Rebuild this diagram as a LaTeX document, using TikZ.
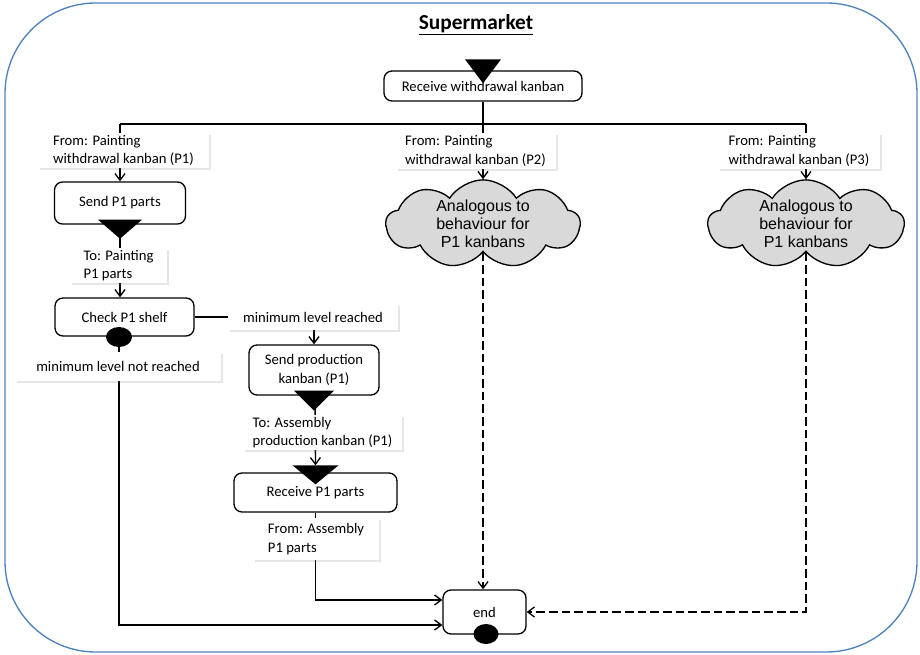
\documentclass[tikz,border=0pt]{standalone}
\usepackage{fontspec}
\setmainfont{Carlito}
\newfontfamily\cloudfont{Liberation Sans}
\usetikzlibrary{arrows.meta,shapes.geometric,shapes.symbols,shadows,calc}
\pgfdeclarelayer{bg}
\pgfsetlayers{bg,main}
\definecolor{frameblue}{RGB}{79,129,189}
\definecolor{cloudgrey}{RGB}{217,217,217}

\begin{document}
\begin{tikzpicture}[x=0.75pt,y=-0.75pt,
  sz/.style 2 args={minimum width=#1*0.75pt,minimum height=#2*0.75pt},
  txt/.style={font=\fontsize{11}{14}\selectfont},
  action/.style={txt,draw,line width=1pt,rounded corners=6pt,fill=white,inner sep=0pt,align=center},
  tag/.style={txt,fill=white,inner sep=0pt,align=left,
    drop shadow={shadow xshift=1.6pt,shadow yshift=-1.6pt,opacity=0.2}},
  cloudbox/.style={cloud,cloud puffs=9,cloud puff arc=115,cloud ignores aspect,
    draw,line width=1pt,fill=cloudgrey,align=center,inner sep=0pt,
    font=\cloudfont\fontsize{12}{13.5}\selectfont},
  dot/.style={ellipse,fill=black,inner sep=0pt},
  wire/.style={line width=1pt},
  arr/.style={wire,-{Straight Barb[length=5pt,width=7.5pt]}},
  dsh/.style={dash pattern=on 6.5pt off 3pt},
  frame/.style={draw=frameblue,line width=1pt,rounded corners=68pt}]

\useasboundingbox (0,0) rectangle (920,655);

% outer swimlane
\node[frame,sz={912}{649}] (market) at (461,327.5) {};
\node[font=\fontsize{16}{19}\selectfont\bfseries] (title) at (476,25) {\underline{Supermarket}};

% actions
\node[action,sz={198}{30}] (rwk) at (483,86) {Receive withdrawal kanban};
\node[action,sz={131}{42}] (send) at (120,203) {Send P1 parts};
\node[action,sz={139}{38}] (check) at (124.5,317) {Check P1 shelf};
\node[action,sz={130}{50}] (sendprod) at (314,370) {Send production\\kanban (P1)};
\node[action,sz={163}{39}] (recv) at (315.5,492.5) {Receive P1 parts};
\node[action,sz={83}{44}] (enda) at (484.5,612) {end};

% clouds for the other products
\node[cloudbox,sz={194}{76}] (cloud2) at (483,224) {Analogous to\\behaviour for\\P1 kanbans};
\node[cloudbox,sz={196}{76}] (cloud3) at (806,224) {Analogous to\\behaviour for\\P1 kanbans};

% object flow labels
\node[tag,sz={171}{35}] (lblP1) at (123.5,150.5) {From: Painting\\withdrawal kanban (P1)};
\node[tag,sz={160}{36}] (lblP2) at (475.5,151) {From: Painting\\withdrawal kanban (P2)};
\node[tag,sz={162}{36}] (lblP3) at (799,151) {From: Painting\\withdrawal kanban (P3)};
\node[tag,sz={97}{35}] (lblTo1) at (118.5,265.5) {To: Painting\\P1 parts};
\node[tag,sz={170}{26}] (mlr) at (313,317) {minimum level reached};
\node[tag,sz={206}{29}] (mlnr) at (118,366.5) {minimum level not reached};
\node[tag,sz={159}{35}] (lblTo2) at (322.5,432.5) {To: Assembly\\production kanban (P1)};
\node[tag,sz={126}{42}] (lblFrom2) at (316,539) {From: Assembly\\P1 parts};

% signal triangles (receive / send)
\fill ($(rwk.north)+(-18,-11)$) -- ++(36,0) -- ($(rwk.north)+(0,13)$) -- cycle;
\fill ($(send.south)+(-22,-5)$) -- ++(44,0) -- ($(send.south)+(0,14)$) -- cycle;
\fill ($(sendprod.south)+(-20,-5)$) -- ++(40,0) -- ($(sendprod.south)+(0,15)$) -- cycle;
\fill ($(recv.north)+(-23,-7)$) -- ++(46,0) -- ($(recv.north)+(0,12)$) -- cycle;
\coordinate (recvtop) at ($(recv.north)+(0,-7)$);

% decision / final dots
\node[dot,sz={26}{20}] (chkdot) at (119,337) {};
\node[dot,sz={25}{20}] (enddot) at (486,634) {};

% fork
\coordinate (fork) at (483,124);
\coordinate (f1) at (120,124);
\coordinate (f3) at (806,124);

\begin{pgfonlayer}{bg}
  \draw[wire] (rwk.south) -- (fork);
  \draw[wire] (f1) -- (f3);
  \draw[arr] (f1) -- (send.north);
  \draw[arr] (fork) -- (fork |- cloud2.north);
  \draw[arr] (f3) -- (f3 |- cloud3.north);
  \draw[arr] (send.south) -- (send.south |- check.north);
  \draw[wire] (check.east) -- (mlr.west);
  \draw[arr] (sendprod.north |- mlr.south) -- (sendprod.north);
  \draw[arr] ($(sendprod.south)+(1,0)$) -- (recvtop);
  \draw[arr] (recv.south) |- ($(enda.west)+(0,-12)$);
  \draw[arr] (chkdot) |- ($(enda.west)+(0,13)$);
  \draw[arr,dsh] (cloud2.south) -- (cloud2.south |- enda.north);
  \draw[arr,dsh] (cloud3.south) |- (enda.east);
\end{pgfonlayer}
\end{tikzpicture}
\end{document}
